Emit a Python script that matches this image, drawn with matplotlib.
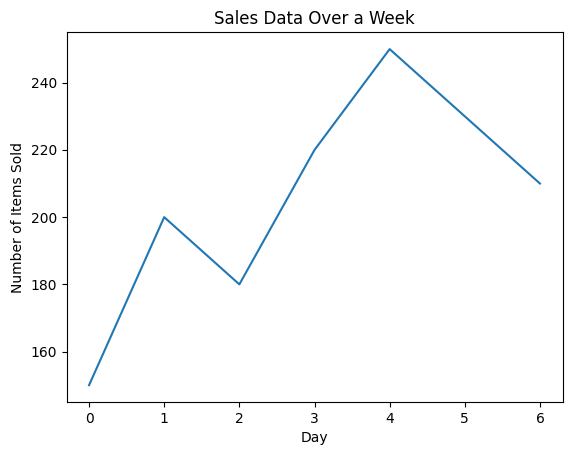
import matplotlib
matplotlib.use("Agg")
import matplotlib.pyplot as plt

# daily sales
days = [0, 1, 2, 3, 4, 5, 6]
items_sold = [150, 200, 180, 220, 250, 230, 210]

fig = plt.figure(figsize=(5.71, 4.55), dpi=100)
ax = fig.add_subplot(111)
fig.subplots_adjust(left=66.5/571, right=562.5/571, top=1-32.3/455, bottom=1-402/455)

ax.plot(days, items_sold)
ax.set_title('Sales Data Over a Week')
ax.set_xlabel('Day')
ax.set_ylabel('Number of Items Sold')

fig.savefig('out.png', dpi=100)
